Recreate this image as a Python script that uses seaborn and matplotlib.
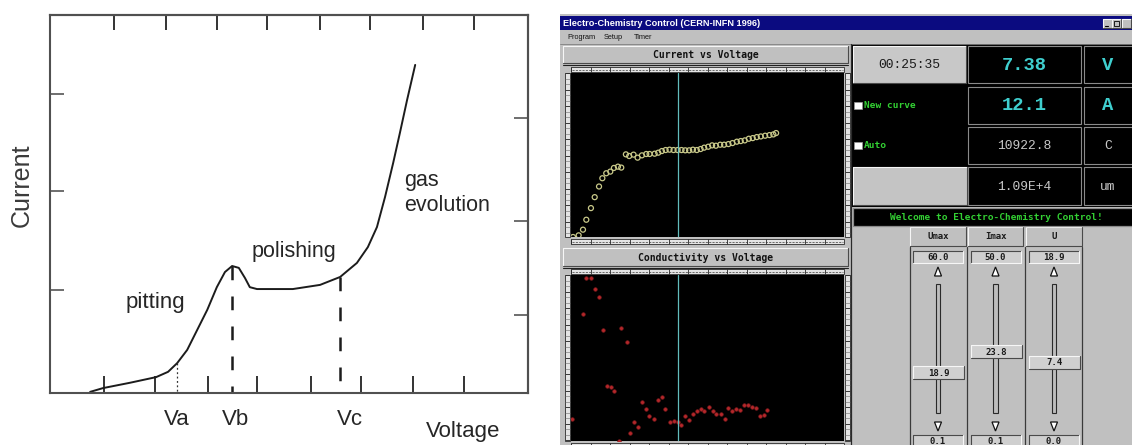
import numpy as np
import matplotlib
matplotlib.use("Agg")
import matplotlib.pyplot as plt
from matplotlib.patches import Rectangle, Polygon
import seaborn as sns

# ---------------- data ----------------
# Schematic electropolishing curve (arbitrary units, 0..10 on both axes)
curve_voltage = [0.84, 1.11, 1.67, 2.22, 2.47, 2.66, 2.87, 3.08, 3.29, 3.49,
                 3.66, 3.81, 3.95, 4.08, 4.18, 4.33, 4.81, 5.08, 5.65, 6.07,
                 6.42, 6.65, 6.84, 7.01, 7.18, 7.32, 7.47, 7.64]
curve_current = [0.03, 0.13, 0.27, 0.42, 0.56, 0.79, 1.14, 1.67, 2.20, 2.80,
                 3.20, 3.36, 3.31, 3.04, 2.80, 2.75, 2.75, 2.75, 2.86, 3.07,
                 3.44, 3.86, 4.39, 5.19, 6.09, 6.88, 7.75, 8.68]
marker_names = ["Va", "Vb", "Vc"]
marker_voltage = [2.66, 3.81, 6.07]
marker_current = [0.79, 3.36, 3.07]
region_names = ["pitting", "polishing", "gas\nevolution"]
bottom_ticks = [1.13, 2.20, 3.31, 4.33, 5.46, 6.51, 7.59, 8.66]
top_ticks = [1.34, 2.43, 3.49, 4.54, 5.65, 6.69, 7.80, 8.87]
left_ticks = [2.72, 5.34, 7.91]
right_ticks = [2.06, 4.55, 7.28]

# Measured current vs voltage (V, A)
iv_voltage = [0.14, 0.53, 0.83, 1.06, 1.38, 1.64, 1.94, 2.17, 2.44, 2.72,
              2.97, 3.25, 3.48, 3.80, 4.03, 4.33, 4.61, 4.91, 5.21, 5.44,
              5.79, 6.04, 6.29, 6.55, 6.82, 7.10, 7.38, 7.65, 7.91, 8.18,
              8.44, 8.71, 8.97, 9.22, 9.50, 9.77, 10.03, 10.33, 10.60, 10.90,
              11.18, 11.48, 11.75, 12.03, 12.31, 12.58, 12.86, 13.14, 13.44,
              13.74, 14.01, 14.20]
iv_current = [0.00, 0.23, 1.02, 2.40, 4.02, 5.54, 7.02, 8.17, 8.86, 9.09,
              9.60, 9.78, 9.65, 11.49, 11.26, 11.45, 11.03, 11.35, 11.54, 11.54,
              11.58, 11.72, 11.95, 12.09, 12.14, 12.09, 12.09, 12.09, 12.05, 12.05,
              12.14, 12.09, 12.23, 12.42, 12.55, 12.74, 12.69, 12.83, 12.83, 12.92,
              13.06, 13.25, 13.34, 13.43, 13.66, 13.75, 13.89, 13.98, 14.08,
              14.17, 14.26, 14.45]

# Measured conductivity vs voltage (V, % of full scale)
cond_voltage = [0.07, 0.83, 1.06, 1.38, 1.64, 1.94, 2.19, 2.47, 2.74, 3.00,
                3.30, 3.48, 3.85, 4.10, 4.38, 4.61, 4.91, 5.21, 5.42, 5.72,
                5.99, 6.27, 6.52, 6.82, 7.10, 7.38, 7.63, 7.91, 8.18, 8.44,
                8.71, 8.99, 9.24, 9.52, 9.80, 10.05, 10.35, 10.63, 10.90, 11.18,
                11.43, 11.71, 11.99, 12.24, 12.54, 12.79, 13.05, 13.35, 13.60]
cond_value = [13.3, 77.3, 99.0, 99.4, 92.4, 87.8, 67.3, 33.5, 33.1, 30.7,
              0.2, 68.5, 60.0, 5.0, 11.4, 8.6, 23.9, 19.5, 15.5, 13.1,
              24.7, 26.5, 19.5, 11.4, 12.4, 11.4, 9.6, 15.5, 12.9, 16.5,
              18.5, 19.5, 18.5, 20.7, 18.1, 16.3, 16.5, 13.3, 19.9, 18.5,
              19.5, 18.9, 21.7, 22.1, 20.7, 20.3, 15.5, 16.1, 19.1]

# Live readouts
elapsed = "00:25:35"
voltage_now = 7.38
current_now = 12.1
charge_now = "10922.8"
thickness_now = "1.09E+4"
readout_units = ["V", "A", "C", "um"]
voltage_full_scale = 18.9
current_full_scale = 22.8

# Slider settings: name, top value, current value, bottom value
slider_names = ["Umax", "Imax", "U"]
slider_top = [60.0, 50.0, 18.9]
slider_value = [18.9, 23.8, 7.4]
slider_bottom = [0.1, 0.1, 0.0]

# ---------------- figure ----------------
W, H = 1132, 445
sns.set_style("white")
plt.rcParams["font.family"] = ["Liberation Sans", "DejaVu Sans"]
fig = plt.figure(figsize=(W / 100, H / 100), dpi=100)
fig.patch.set_facecolor("white")


def box(x0, y0, x1, y1):
    return [x0 / W, 1 - y1 / H, (x1 - x0) / W, (y1 - y0) / H]


# ---------- left: schematic curve ----------
ink = "#262626"
frame = "#505050"
ax = fig.add_axes(box(50, 15, 528, 393))
sns.lineplot(x=curve_voltage, y=curve_current, ax=ax, color="#1c1c1c",
             lw=1.4, estimator=None, sort=False)
ax.set_xlim(0, 10)
ax.set_ylim(0, 10)
for s in ax.spines.values():
    s.set_visible(True)
    s.set_color(frame)
    s.set_linewidth(1.5)
ax.set_xticks(bottom_ticks)
ax.set_yticks(left_ticks)
ax.tick_params(axis="x", bottom=True, direction="in", length=12, width=1.4,
               colors="#333333", labelbottom=False)
ax.tick_params(axis="y", left=True, direction="in", length=10, width=1.2,
               colors="#555555", labelleft=False)
top = ax.secondary_xaxis("top")
top.set_xticks(top_ticks)
top.tick_params(top=True, direction="in", length=11, width=1.4, colors="#333333",
                labeltop=False)
top.spines["top"].set_color(frame)
top.spines["top"].set_linewidth(1.5)
right = ax.secondary_yaxis("right")
right.set_yticks(right_ticks)
right.tick_params(right=True, direction="in", length=10, width=1.2, colors="#555555",
                  labelright=False)
right.spines["right"].set_color(frame)
right.spines["right"].set_linewidth(1.5)

# guide lines from the curve down to the voltage axis
ax.plot([marker_voltage[0]] * 2, [marker_current[0], 0], color="#333333", lw=0.9,
        ls=(0, (1.5, 2)))
for v, c in zip(marker_voltage[1:], marker_current[1:]):
    ax.plot([v, v], [c, 0], color="#1c1c1c", lw=1.8, dashes=(5.5, 6.5))
label_dx = [0.0, 0.08, 0.21]
for name, v, dx in zip(marker_names, marker_voltage, label_dx):
    ax.text(v + dx, -0.7, name, ha="center", va="center", fontsize=16, color=ink)
ax.text(8.65, -1.30, "Voltage", ha="center", va="bottom", fontsize=16, color=ink,
        clip_on=False)
ax.text(-0.6, 5.5, "Current", ha="center", va="center", rotation=90,
        fontsize=18, color="#3a3a3a")
ax.text(2.2, 2.4, region_names[0], ha="center", va="center", fontsize=16, color=ink)
ax.text(5.1, 3.75, region_names[1], ha="center", va="center", fontsize=15.5, color=ink)
ax.text(7.4, 5.3, region_names[2], ha="left", va="center", fontsize=15.5, color=ink,
        linespacing=1.25)

# ---------- right: acquisition program window ----------
gui = fig.add_axes(box(560, 0, 1132, 445))
gui.set_xlim(560, 1132)
gui.set_ylim(445, 0)
gui.axis("off")

GRAY = "#c0c0c0"
mono = ["DejaVu Sans Mono"]
cour = ["Liberation Mono", "DejaVu Sans Mono"]


def rect(x0, y0, x1, y1, fc, ec="none", lw=0.0, z=1):
    gui.add_patch(Rectangle((x0, y0), x1 - x0, y1 - y0, facecolor=fc,
                            edgecolor=ec, linewidth=lw, zorder=z))


def bevel(x0, y0, x1, y1, fc=GRAY, raised=True, z=2):
    rect(x0, y0, x1, y1, fc, z=z)
    light, dark = ("#f6f6f6", "#4a4a4a") if raised else ("#4a4a4a", "#f6f6f6")
    gui.plot([x0, x0, x1], [y1, y0, y0], color=light, lw=0.8, zorder=z + 0.1)
    gui.plot([x0, x1, x1], [y1, y1, y0], color=dark, lw=0.8, zorder=z + 0.1)


def ruler_h(x0, x1, y0, y1):
    rect(x0, y0, x1, y1, "#e4e4e4", ec="#2a2a2a", lw=0.6, z=3)
    gui.hlines((y0 + y1) / 2, x0 + 1, x1 - 1, color="#555555", lw=0.6,
               linestyles=(0, (2.5, 1.5)), zorder=4)
    gui.vlines(np.arange(x0, x1, 19.5), y0, y1, color="#2a2a2a", lw=0.6, zorder=4)


def ruler_v(x0, x1, y0, y1):
    rect(x0, y0, x1, y1, "#e4e4e4", ec="#2a2a2a", lw=0.6, z=3)
    gui.hlines(np.arange(y0, y1, 5.5), x0, x1, color="#6a6a6a", lw=0.4, zorder=4)
    gui.hlines(np.arange(y0, y1, 16.5), x0, x1, color="#2a2a2a", lw=0.6, zorder=4)


# window frame, title bar, menu
rect(560, 14, 1132, 445, GRAY, z=0.5)
rect(560, 16, 1132, 30, "#0b0b80", z=1)
gui.text(563, 23.5, "Electro-Chemistry Control (CERN-INFN 1996)", color="white",
         fontsize=6.6, fontweight="bold", va="center", ha="left",
         family=["Liberation Sans Narrow", "Liberation Sans"], zorder=5)
for bx in (1103, 1112, 1122):
    bevel(bx, 18.5, bx + 8.5, 28, z=5)
gui.plot([1105, 1108], [26, 26], color="black", lw=0.8, zorder=6)
rect(1114, 20.5, 1118.5, 25.5, "none", ec="black", lw=0.6, z=6)
for name, mx in zip(["Program", "Setup", "Timer"], [567, 604, 634]):
    gui.text(mx, 37.5, name, fontsize=5.3, va="center", ha="left", color="#111111",
             zorder=5)
gui.plot([560, 1132], [44, 44], color="#808080", lw=0.6, zorder=2)

# plot panels (headers + rulers); the black plots are separate axes
for (hy0, hy1, title, py0, py1) in [(46, 63, "Current vs Voltage", 73, 237),
                                     (248, 266, "Conductivity vs Voltage", 275, 441)]:
    bevel(563, hy0, 848, hy1)
    gui.text(705.5, (hy0 + hy1) / 2 + 0.5, title, ha="center", va="center",
             fontsize=7, fontweight="bold", family=mono, color="#111111", zorder=5)
    gui.plot([563, 848], [hy1 + 1.5, hy1 + 1.5], color="#202020", lw=0.8, zorder=3)
    ruler_h(571, 844, py0 - 6, py0 - 1)
    ruler_h(571, 844, py1 + 2, py1 + 7)
    ruler_v(565, 570, py0, py1)
    ruler_v(845, 850, py0, py1)
gui.plot([851, 851], [44, 445], color="#2a2a2a", lw=0.9, zorder=3)

# readout block
rect(852, 44, 1132, 207, "black", z=1)
rows = [(46, 83), (87, 124), (127, 164), (167, 205)]
for (y0, y1) in rows:
    rect(968, y0, 1081, y1, "black", ec="#8a8a8a", lw=0.8, z=2)
    rect(1084, y0, 1134, y1, "black", ec="#8a8a8a", lw=0.8, z=2)
bevel(853, 46, 966, 83, fc="#c8c8c8")
bevel(853, 167, 967, 205, fc="#c4c4c4")
gui.text(909.5, 64.5, elapsed, ha="center", va="center", fontsize=9.4,
         family=cour, color="#1a1a1a", zorder=5)
cyan = "#3fcfcf"
values = [f"{voltage_now:.2f}", f"{current_now:.1f}", charge_now, thickness_now]
for i, ((y0, y1), txt, unit) in enumerate(zip(rows, values, readout_units)):
    big = i < 2
    col = cyan if big else "#c8c8c8"
    fs = 13.5 if big else 9.4
    gui.text(1024.5, (y0 + y1) / 2 + 0.5, txt, ha="center", va="center",
             fontsize=fs, fontweight="bold" if big else "normal",
             family=cour, color=col, zorder=5)
    gui.text(1108, (y0 + y1) / 2 + 0.5, unit, ha="center", va="center",
             fontsize=fs, fontweight="bold" if big else "normal",
             family=cour, color=col, zorder=5)
green = "#33d033"
for label, cy in [("New curve", 105.5), ("Auto", 145.5)]:
    rect(854, cy - 3.5, 861.5, cy + 3.5, "white", ec="#9a9a9a", lw=0.5, z=4)
    gui.text(863.5, cy, label, ha="left", va="center", fontsize=6.8,
             fontweight="bold", family=mono, color=green, zorder=5)

# status line
rect(853, 208, 1134, 226, "black", ec="#8a8a8a", lw=0.9, z=3)
gui.text(996, 217.5, "Welcome to Electro-Chemistry Control!", ha="center",
         va="center", fontsize=6.8, fontweight="bold", family=mono,
         color=green, zorder=5)

# sliders
col_edges = [(910, 966), (968, 1023), (1026, 1082)]
track_top, track_bottom = 284, 413
for sep in (910, 967, 1025, 1082):
    gui.plot([sep, sep], [247, 445], color="#3a3a3a", lw=0.9, zorder=3)
for (x0, x1), name, vmax, val, vmin in zip(col_edges, slider_names, slider_top,
                                           slider_value, slider_bottom):
    cx = (x0 + x1) / 2
    bevel(x0, 227, x1, 246)
    gui.text(cx, 236.5, name, ha="center", va="center", fontsize=6.5,
             fontweight="bold", family=mono, color="#1a1a1a", zorder=5)
    # top and bottom value boxes
    for (y0, y1), v in [((251, 263), vmax), ((435, 447), vmin)]:
        bevel(cx - 25, y0, cx + 25, y1, fc="#cfcfcf", raised=False, z=3)
        gui.text(cx, (y0 + y1) / 2 + 0.5, f"{v:.1f}", ha="center", va="center",
                 fontsize=6.5, fontweight="bold", family=mono,
                 color="#1a1a1a", zorder=5)
    # arrows
    gui.add_patch(Polygon([[cx - 3.5, 276], [cx + 3.5, 276], [cx, 267]],
                          closed=True, fc="white", ec="#111111", lw=0.9, zorder=4))
    gui.add_patch(Polygon([[cx - 3.5, 422], [cx + 3.5, 422], [cx, 431]],
                          closed=True, fc="white", ec="#111111", lw=0.9, zorder=4))
    # track
    rect(cx - 2.5, track_top, cx + 2, track_bottom, "#bdbdbd", ec="#2a2a2a",
         lw=0.8, z=3)
    # thumb placed from the slider value
    frac = (val - vmin) / (vmax - vmin)
    ty = track_bottom - frac * (track_bottom - track_top)
    bevel(cx - 25, ty - 6.5, cx + 26, ty + 6.5, fc="#d0d0d0", z=4)
    gui.text(cx + 0.5, ty + 0.5, f"{val:.1f}", ha="center", va="center",
             fontsize=6.5, fontweight="bold", family=mono, color="#1a1a1a",
             zorder=6)

# ---------- the two live plots ----------
axc = fig.add_axes(box(571, 73, 844, 237))
axc.set_facecolor("black")
sns.scatterplot(x=iv_voltage, y=iv_current, ax=axc, s=13, marker="o",
                facecolors="none", edgecolors="#c9c98a", linewidth=0.9)
axc.axvline(voltage_now, color="#62bcbc", lw=0.9)
axc.set_xlim(0, voltage_full_scale)
axc.set_ylim(0, current_full_scale)

axk = fig.add_axes(box(571, 275, 844, 441))
axk.set_facecolor("black")
sns.scatterplot(x=cond_voltage, y=cond_value, ax=axk, s=7, marker="o",
                color="#b3272a", edgecolor="#7a1a1c", linewidth=0.4)
axk.axvline(voltage_now, color="#62bcbc", lw=0.9)
axk.set_xlim(0, voltage_full_scale)
axk.set_ylim(0, 101)

for a in (axc, axk):
    a.set_xticks([])
    a.set_yticks([])
    a.set_xlabel("")
    a.set_ylabel("")
    for s in a.spines.values():
        s.set_visible(False)

fig.savefig("out.png", dpi=100, facecolor="white")
